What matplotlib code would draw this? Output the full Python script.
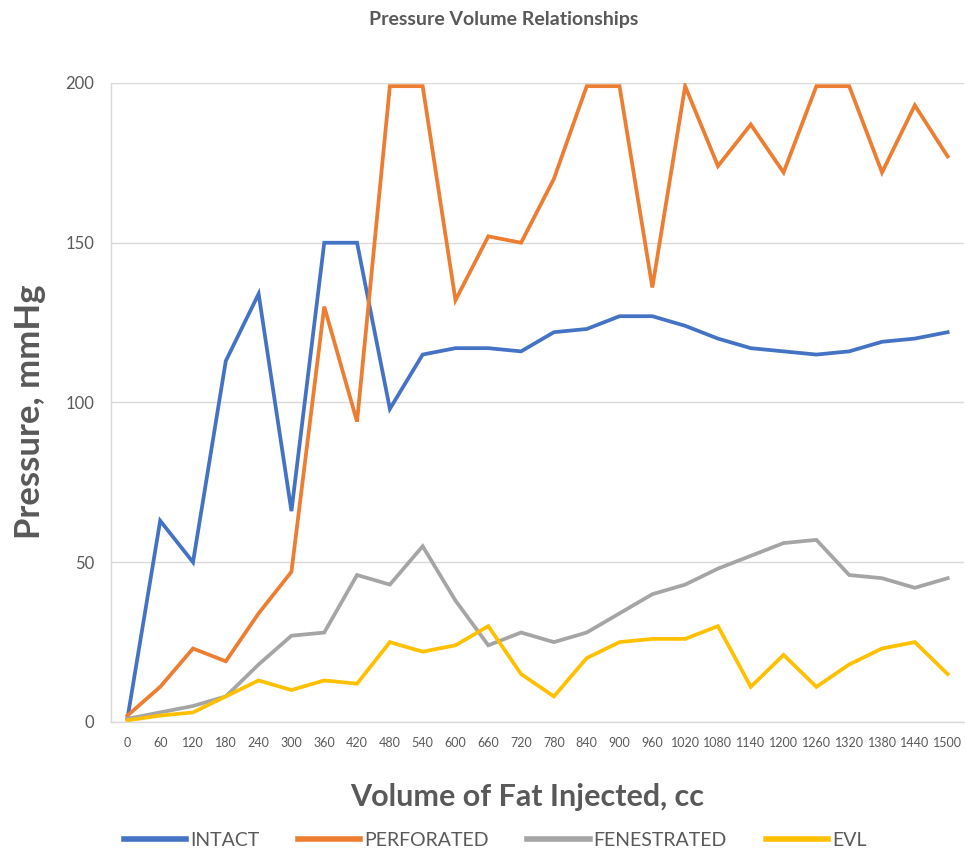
import matplotlib
matplotlib.use('Agg')
import matplotlib.pyplot as plt
import numpy as np

# categories (volume of fat injected, cc)
volume = [0, 60, 120, 180, 240, 300, 360, 420, 480, 540, 600, 660, 720, 780,
          840, 900, 960, 1020, 1080, 1140, 1200, 1260, 1320, 1380, 1440, 1500]

# pressure readings, mmHg
intact = [1, 63, 50, 113, 134, 66, 150, 150, 98, 115, 117, 117, 116, 122,
          123, 127, 127, 124, 120, 117, 116, 115, 116, 119, 120, 122]
perforated = [2, 11, 23, 19, 34, 47, 130, 94, 199, 199, 132, 152, 150, 170,
              199, 199, 136, 199, 174, 187, 172, 199, 199, 172, 193, 177]
fenestrated = [1, 3, 5, 8, 18, 27, 28, 46, 43, 55, 38, 24, 28, 25,
               28, 34, 40, 43, 48, 52, 56, 57, 46, 45, 42, 45]
evl = [0.5, 2, 3, 8, 13, 10, 13, 12, 25, 22, 24, 30, 15, 8,
       20, 25, 26, 26, 30, 11, 21, 11, 18, 23, 25, 15]

series_names = ['INTACT', 'PERFORATED', 'FENESTRATED', 'EVL']
series_colors = ['#4472C4', '#ED7D31', '#A5A5A5', '#FFC000']

txt = '#595959'
plt.rcParams['font.family'] = ['Lato', 'DejaVu Sans']

fig = plt.figure(figsize=(9.65, 8.52), dpi=100)
ax = fig.add_axes([0.115, 0.1526, 0.884, 0.75])

x = np.arange(len(volume))
for vals, name, col in zip([intact, perforated, fenestrated, evl], series_names, series_colors):
    ax.plot(x, vals, color=col, lw=2.7, label=name, solid_joinstyle='miter')

ax.set_xlim(-0.5, len(volume) - 0.5)
ax.set_ylim(0, 200)
ax.set_yticks([0, 50, 100, 150, 200])
ax.set_xticks(x)
ax.set_xticklabels([str(v) for v in volume])
ax.tick_params(axis='x', length=0, pad=11, labelsize=9, colors=txt)
ax.tick_params(axis='y', length=0, pad=12, labelsize=12, colors=txt)
ax.grid(axis='y', color='#D9D9D9', lw=1)
ax.set_axisbelow(True)
for s in ['top', 'right']:
    ax.spines[s].set_visible(False)
for s in ['left', 'bottom']:
    ax.spines[s].set_color('#D9D9D9')
    ax.spines[s].set_linewidth(1)

fig.text(504 / 965, 1 - 20 / 852, 'Pressure Volume Relationships', ha='center', va='center',
         fontsize=14, fontweight='bold', color=txt)
fig.text(30 / 965, 1 - 412 / 852, 'Pressure, mmHg', ha='center', va='center', rotation=90,
         fontsize=25, fontweight='bold', color=txt)
fig.text(527 / 965, 1 - 797 / 852, 'Volume of Fat Injected, cc', ha='center', va='center',
         fontsize=22, fontweight='bold', color=txt)

leg = fig.legend(loc='center', bbox_to_anchor=(495 / 965, 1 - 840 / 852), ncol=4, frameon=False,
                 fontsize=14, handlelength=3.2, handletextpad=0.2, columnspacing=2.0)
for t in leg.get_texts():
    t.set_color(txt)
for h in leg.get_lines():
    h.set_linewidth(4)

fig.savefig('out.png', dpi=100)
